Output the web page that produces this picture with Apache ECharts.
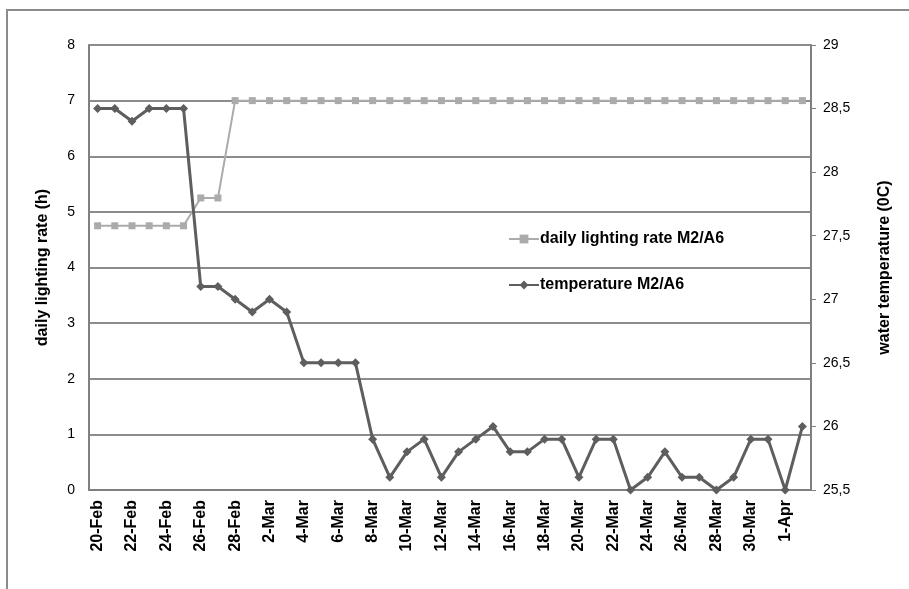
<!DOCTYPE html>
<html><head><meta charset="utf-8">
<script src="https://cdn.jsdelivr.net/npm/echarts@6/dist/echarts.min.js"></script>
<style>html,body{margin:0;padding:0;background:#fff}#c{width:909px;height:589px}</style>
</head><body><div id="c"></div>
<script>
const categories = ["20-Feb","21-Feb","22-Feb","23-Feb","24-Feb","25-Feb","26-Feb","27-Feb","28-Feb",
"1-Mar","2-Mar","3-Mar","4-Mar","5-Mar","6-Mar","7-Mar","8-Mar","9-Mar","10-Mar","11-Mar","12-Mar",
"13-Mar","14-Mar","15-Mar","16-Mar","17-Mar","18-Mar","19-Mar","20-Mar","21-Mar","22-Mar","23-Mar",
"24-Mar","25-Mar","26-Mar","27-Mar","28-Mar","29-Mar","30-Mar","31-Mar","1-Apr","2-Apr"];
const lighting = [4.75,4.75,4.75,4.75,4.75,4.75,5.25,5.25,7,7,7,7,7,7,7,7,7,7,7,7,7,7,7,7,7,7,7,7,7,7,7,7,7,7,7,7,7,7,7,7,7,7];
const temperature = [28.5,28.5,28.4,28.5,28.5,28.5,27.1,27.1,27.0,26.9,27.0,26.9,26.5,26.5,26.5,26.5,
25.9,25.6,25.8,25.9,25.6,25.8,25.9,26.0,25.8,25.8,25.9,25.9,25.6,25.9,25.9,25.5,25.6,25.8,25.6,25.6,25.5,25.6,25.9,25.9,25.5,26.0];
const leftTicks = {min:0,max:8,interval:1};
const rightTicks = {min:25.5,max:29,interval:0.5};

const chart = echarts.init(document.getElementById('c'), null, {renderer:'canvas'});
const F = 'Liberation Sans, Arial, sans-serif';
chart.setOption({
  animation:false,
  backgroundColor:'#fff',
  graphic:[{type:'polyline',shape:{points:[[7,589],[7,10],[909,10]]},style:{stroke:'#8c8c8c',lineWidth:2,fill:null},silent:true}],
  grid:{left:89,right:98,top:45,bottom:99},
  legend:{orient:'vertical',left:503,top:226,itemWidth:30,itemHeight:11,itemGap:30,
    textStyle:{fontFamily:F,fontWeight:'bold',fontSize:16,color:'#000',padding:[0,0,0,-4]},
    data:['daily lighting rate M2/A6','temperature M2/A6']},
  xAxis:{type:'category',data:categories,boundaryGap:true,
    axisLine:{lineStyle:{color:'#808080',width:2}},axisTick:{show:false},
    axisLabel:{interval:1,rotate:90,fontFamily:F,fontWeight:'bold',fontSize:16,color:'#000',margin:10}},
  yAxis:[
    {type:'value',min:leftTicks.min,max:leftTicks.max,interval:leftTicks.interval,position:'left',
     name:'daily lighting rate (h)',nameLocation:'middle',nameGap:38,
     nameTextStyle:{fontFamily:F,fontWeight:'bold',fontSize:16,color:'#000'},
     axisLine:{show:true,lineStyle:{color:'#808080',width:2}},axisTick:{show:false},
     axisLabel:{fontFamily:F,fontSize:14,color:'#000',margin:14},
     splitLine:{lineStyle:{color:'#8c8c8c',width:2}}},
    {type:'value',min:rightTicks.min,max:rightTicks.max,interval:rightTicks.interval,position:'right',
     name:'water temperature (0C)',nameLocation:'middle',nameGap:66,nameRotate:90,
     nameTextStyle:{fontFamily:F,fontWeight:'bold',fontSize:16,color:'#000'},
     axisLine:{show:true,lineStyle:{color:'#808080',width:2}},
     axisTick:{show:true,inside:false,length:5,lineStyle:{color:'#808080',width:1}},
     axisLabel:{fontFamily:F,fontSize:14,color:'#000',margin:12,formatter:v=>String(v).replace('.',',')},
     splitLine:{show:false}}
  ],
  series:[
    {name:'daily lighting rate M2/A6',type:'line',yAxisIndex:0,data:lighting,
     symbol:'rect',symbolSize:7,lineStyle:{color:'#ababab',width:2},itemStyle:{color:'#ababab'}},
    {name:'temperature M2/A6',type:'line',yAxisIndex:1,data:temperature,
     symbol:'diamond',symbolSize:9,lineStyle:{color:'#5e5e5e',width:3},itemStyle:{color:'#5e5e5e'}}
  ]
});
</script></body></html>
